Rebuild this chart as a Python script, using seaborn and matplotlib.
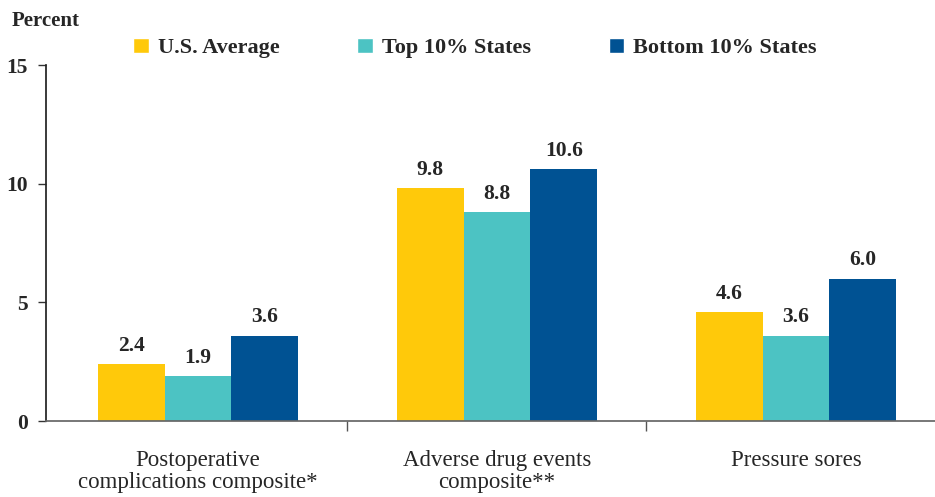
import numpy as np
import pandas as pd
import seaborn as sns
import matplotlib.pyplot as plt
from matplotlib.patches import Patch

# chart data
categories = ['Postoperative\ncomplications composite*', 'Adverse drug events\ncomposite**', 'Pressure sores']
groups = ['U.S. Average', 'Top 10% States', 'Bottom 10% States']
us_avg = [2.4, 9.8, 4.6]
top10 = [1.9, 8.8, 3.6]
bottom10 = [3.6, 10.6, 6.0]
colors = ['#FFC90A', '#4CC3C3', '#005293']

df = pd.DataFrame({
    'category': categories * 3,
    'group': [groups[0]] * 3 + [groups[1]] * 3 + [groups[2]] * 3,
    'value': us_avg + top10 + bottom10,
})

sns.set_theme(style='white')
plt.rcParams['font.family'] = ['Liberation Serif', 'DejaVu Serif']

fig = plt.figure(figsize=(9.35, 4.97), dpi=100)
ax = fig.add_axes([0.0492, 0.1529, 0.9508, 0.7163])

sns.barplot(data=df, x='category', y='value', hue='group', palette=colors,
            width=0.67, saturation=1, errorbar=None, ax=ax, legend=False,
            linewidth=0)

for cont in ax.containers:
    ax.bar_label(cont, fmt='%.1f', padding=6, fontsize=15.5, fontweight='bold')

ax.set_ylim(0, 15)
ax.set_xlim(-0.508, 2.465)
ax.set_yticks([0, 5, 10, 15])
ax.set_yticklabels(['0', '5', '10', '15'], fontsize=15.5, fontweight='bold')
ax.set_xlabel('')
ax.set_ylabel('')

# category labels below, separator ticks in between
ax.set_xticks([0.5, 1.5], minor=False)
ax.set_xticklabels([])
ax.set_xticks([0, 1, 2], minor=True)
ax.set_xticklabels(categories, minor=True, fontsize=16.5, linespacing=1.05)
ax.tick_params(axis='x', which='major', direction='out', length=7, width=1, color='#555555', bottom=True)
ax.tick_params(axis='x', which='minor', length=0, pad=21)
ax.tick_params(axis='y', direction='out', length=6, width=1, color='#333333', left=True, pad=7)

for s in ['top', 'right']:
    ax.spines[s].set_visible(False)
ax.spines['left'].set_color('#222222')
ax.spines['bottom'].set_color('#666666')

fig.text(0.012, 0.958, 'Percent', fontsize=15, fontweight='bold', va='center')

handles = [Patch(facecolor=c) for c in colors]
fig.legend(handles, groups, loc='center', bbox_to_anchor=(0.508, 0.903), ncol=3,
           frameon=False, handlelength=0.7, handleheight=0.7, handletextpad=0.4,
           columnspacing=3.5, prop={'size': 16, 'weight': 'bold'})

fig.savefig('out.png', dpi=100)
